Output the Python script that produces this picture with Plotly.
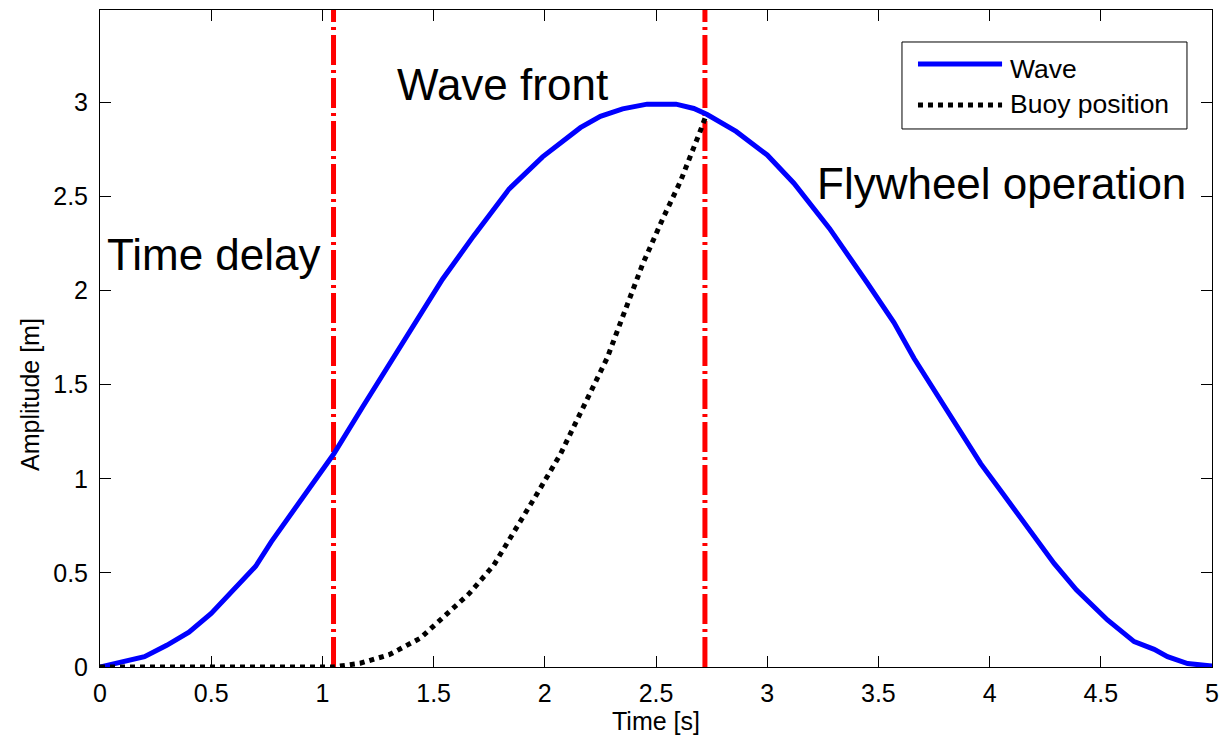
import plotly.graph_objects as go

# ---- data ----
wave_t = [0, 0.2, 0.3, 0.4, 0.5, 0.6, 0.7, 0.77, 0.88, 0.97, 1.05, 1.18, 1.33, 1.54, 1.68,
          1.84, 1.99, 2.16, 2.25, 2.35, 2.46, 2.59, 2.67, 2.73, 2.86, 3.0, 3.12, 3.28, 3.45,
          3.57, 3.66, 3.75, 3.84, 3.91, 3.96, 4.06, 4.18, 4.29, 4.39, 4.53, 4.65, 4.74, 4.80,
          4.89, 5.0]
wave_y = [0, 0.055, 0.115, 0.185, 0.285, 0.41, 0.535, 0.665, 0.845, 1.0, 1.13, 1.38, 1.66,
          2.06, 2.29, 2.54, 2.71, 2.865, 2.925, 2.965, 2.99, 2.99, 2.967, 2.935, 2.845, 2.72,
          2.57, 2.33, 2.04, 1.83, 1.64, 1.47, 1.31, 1.18, 1.08, 0.92, 0.73, 0.55, 0.41, 0.25,
          0.135, 0.094, 0.055, 0.018, 0.005]

buoy_t = [0, 1.05, 1.17, 1.30, 1.44, 1.54, 1.66, 1.77, 1.87, 1.96, 2.07, 2.17, 2.28, 2.35,
          2.44, 2.53, 2.61, 2.70, 2.725]
buoy_y = [0, 0, 0.02, 0.065, 0.153, 0.26, 0.39, 0.54, 0.73, 0.91, 1.13, 1.38, 1.64, 1.86,
          2.14, 2.38, 2.58, 2.85, 2.93]

series_names = ["Wave", "Buoy position"]

phase_bounds = [1.05, 2.72]
phase_labels = ["Time delay", "Wave front", "Flywheel operation"]
phase_label_x = [0.022, 1.326, 3.215]
phase_label_y = [2.19, 3.093, 2.567]

x_ticks = [0, 0.5, 1, 1.5, 2, 2.5, 3, 3.5, 4, 4.5, 5]
x_ticklabels = ["0", "0.5", "1", "1.5", "2", "2.5", "3", "3.5", "4", "4.5", "5"]
y_ticks = [0, 0.5, 1, 1.5, 2, 2.5, 3]
y_ticklabels = ["0", "0.5", "1", "1.5", "2", "2.5", "3"]

FONT = "Liberation Sans, Arial, Helvetica, sans-serif"
Y_MAX = 3.49

WAVE_LINE = dict(color="#0000ff", width=5)
BUOY_LINE = dict(color="#000000", width=5, dash="dot")

fig = go.Figure()

for xb in phase_bounds:
    fig.add_trace(go.Scatter(
        x=[xb, xb], y=[0, Y_MAX], mode="lines",
        line=dict(color="#ff0000", width=5, dash="30px,5px,3px,5px"),
        showlegend=False, hoverinfo="skip"))

fig.add_trace(go.Scatter(x=wave_t, y=wave_y, mode="lines", name=series_names[0],
                         line=WAVE_LINE, showlegend=False))
fig.add_trace(go.Scatter(x=buoy_t, y=buoy_y, mode="lines", name=series_names[1],
                         line=BUOY_LINE, showlegend=False))

for txt, tx, ty in zip(phase_labels, phase_label_x, phase_label_y):
    fig.add_annotation(x=tx, y=ty, xref="x", yref="y", text=txt, showarrow=False,
                       xanchor="left", yanchor="middle",
                       font=dict(family=FONT, size=44, color="black"))

# ---- legend box (MATLAB style, long line samples) ----
fig.add_shape(type="rect", xref="paper", yref="paper",
              x0=0.7212, x1=0.9775, y0=0.8189, y1=0.9513,
              line=dict(color="black", width=1), fillcolor="white", layer="above")
legend_rows_y = [0.9178, 0.8554]
legend_text_y = [0.9100, 0.8565]
for name, line_style, ly, ty in zip(series_names, [WAVE_LINE, BUOY_LINE],
                                    legend_rows_y, legend_text_y):
    fig.add_shape(type="line", xref="paper", yref="paper",
                  x0=0.7356, x1=0.8112, y0=ly, y1=ly, line=line_style, layer="above")
    fig.add_annotation(x=0.8165, y=ty, xref="paper", yref="paper", text=name,
                       showarrow=False, xanchor="left", yanchor="middle",
                       font=dict(family=FONT, size=26.5, color="black"))

# ---- y-axis title (placed as in the reference) ----
fig.add_annotation(x=-0.063, y=0.4155, xref="paper", yref="paper", text="Amplitude [m]",
                   textangle=-90, showarrow=False, xanchor="center", yanchor="middle",
                   font=dict(family=FONT, size=25, color="black"))

axis_common = dict(showline=True, linecolor="black", linewidth=1, mirror="ticks",
                   ticks="inside", ticklen=11, tickwidth=1, tickcolor="black",
                   showgrid=False, zeroline=False,
                   tickfont=dict(family=FONT, size=25, color="black"))

fig.update_xaxes(range=[0, 5], tickvals=x_ticks, ticktext=x_ticklabels,
                 title=dict(text="Time [s]", font=dict(family=FONT, size=25, color="black"),
                            standoff=0),
                 ticklabelstandoff=4, **axis_common)
fig.update_yaxes(range=[0, Y_MAX], tickvals=y_ticks, ticktext=y_ticklabels,
                 ticklabelstandoff=6, **axis_common)

fig.update_layout(
    width=1229, height=740,
    margin=dict(l=100, r=17, t=10, b=73, autoexpand=False),
    paper_bgcolor="white", plot_bgcolor="white",
    font=dict(family=FONT, size=25, color="black"),
    showlegend=False,
)

fig.write_html("out.html")
